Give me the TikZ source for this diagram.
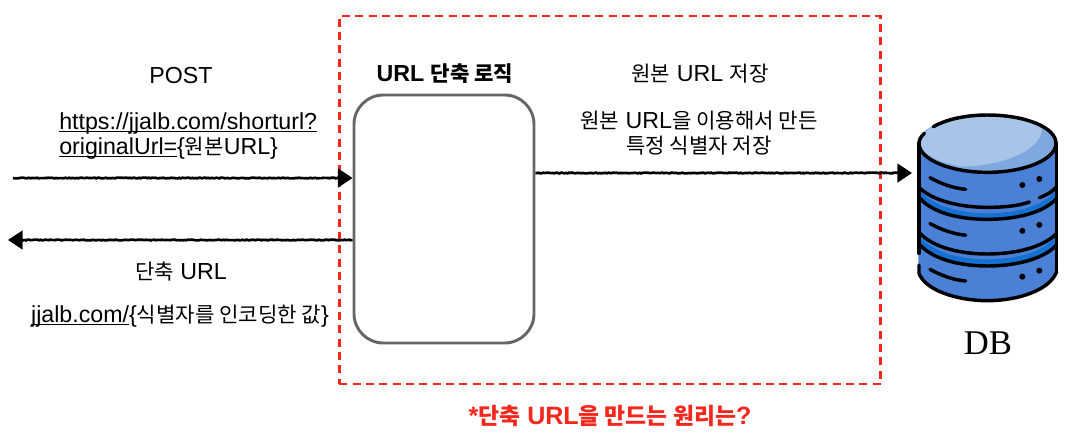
\documentclass[tikz,border=0pt]{standalone}
\usepackage{fontspec}
\setmainfont{Liberation Sans}
\newfontfamily\kr[Scale=0.91]{Noto Sans CJK KR}
\newfontfamily\dbfont{Liberation Serif}
\usetikzlibrary{arrows.meta,positioning,calc,decorations.pathmorphing}
\definecolor{boxred}{HTML}{F5261B}
\definecolor{dbbody}{HTML}{4A80D6}
\definecolor{dbtop}{HTML}{A9C4E9}
\definecolor{dbshade}{HTML}{7FA7E0}
\definecolor{dbgroove}{HTML}{1470D2}
\newsavebox\linkbox
\newcommand\linktext[1]{\sbox\linkbox{#1}\rlap{\usebox\linkbox}\rule[-1.7pt]{\wd\linkbox}{.8pt}}
\tikzset{
  label/.style={font=\fontsize{17.4}{18.5}\selectfont,inner sep=0pt},
  rough/.style={decorate,decoration={random steps,segment length=1.2pt,amplitude=.3pt,post=lineto,post length=10pt}},
  flow/.style={rough,draw=black,line width=2pt,-{Triangle[length=11pt,width=14pt]}},
  logicbox/.style={draw=black!60,line width=2.2pt,rounded corners=22pt,minimum width=135pt,minimum height=186pt,inner sep=0pt},
  dbline/.style={line width=2.6pt,line cap=round,black}
}
\begin{document}
\begin{tikzpicture}[x=.75pt,y=-.75pt]
\pgfmathsetseed{1071}
\useasboundingbox (0,0) rectangle (1071,437);
% scope of the logic
\node[draw=boxred,dashed,line width=2.2pt,dash pattern=on 6pt off 4pt,minimum width=406pt,minimum height=276pt,inner sep=0pt] (scopebox) at (610,200) {};
\node[logicbox] (logic) at (444,219) {};
% free ends
\coordinate (clientin) at (13,178);
\coordinate (clientout) at (8,240);
\coordinate (dbin) at (912,173);
\draw[flow] (clientin) -- (clientin -| logic.west);
\draw[flow] (clientout -| logic.west) -- (clientout);
\draw[flow] (dbin -| logic.east) -- (dbin);
% texts
\node[label] (post) at (181,76) {POST};
\node[label,align=left,anchor=west] (request) at (59,136) {\linktext{https://jjalb.com/shorturl?}\\\linktext{originalUrl=}\{{\kr 원본}URL\}};
\node[label] (shorturl) at (181,272) {{\kr 단축} URL};
\node[label] (shortvalue) at (180,316) {\linktext{jjalb.com/}\{{\kr 식별자를 인코딩한 값}\}};
\node[label,font=\fontsize{17.4}{18.5}\selectfont\bfseries] (logictitle) at (445,74) {URL {\kr 단축 로직}};
\node[label] (savetitle) at (700,74) {{\kr 원본} URL {\kr 저장}};
\node[label,align=center] (savetext) at (699,133) {{\kr 원본} URL{\kr 을 이용해서 만든}\\{\kr 특정 식별자 저장}};
\node[label,font=\fontsize{18.8}{20}\selectfont\bfseries,text=boxred] (question) at (610,416) {*{\kr 단축} URL{\kr 을 만드는 원리는}?};
\node[label,font=\fontsize{26}{30}\selectfont\dbfont] (dbname) at (988,343) {DB};
% database, in units of the zoomed icon
\begin{scope}[shift={(900,110)},x=.25pt,y=-.25pt]
\fill[dbbody] (55,100) -- (55,485) .. controls (80,540) and (180,572) .. (262,572) .. controls (345,572) and (445,540) .. (470,485) -- (470,100) -- cycle;
\fill[dbgroove] (58,240) .. controls (100,290) and (180,310) .. (262,310) .. controls (345,310) and (430,290) .. (468,240) -- (468,265) .. controls (430,310) and (345,328) .. (262,328) .. controls (180,328) and (100,310) .. (58,265) -- cycle;
\fill[dbgroove] (58,378) .. controls (100,428) and (180,448) .. (262,448) .. controls (345,448) and (430,428) .. (468,378) -- (468,403) .. controls (430,448) and (345,466) .. (262,466) .. controls (180,466) and (100,448) .. (58,403) -- cycle;
\fill[dbshade] (262,100) ellipse (208 and 85);
\fill[dbtop] (60,100) .. controls (60,50) and (160,15) .. (262,15) .. controls (330,15) and (395,30) .. (425,55) .. controls (430,110) and (330,165) .. (190,170) .. controls (120,160) and (60,130) .. (60,100) -- cycle;
\draw[dbline] (100,50) .. controls (145,25) and (205,15) .. (262,15) .. controls (375,15) and (468,52) .. (468,100) .. controls (468,148) and (375,187) .. (262,187) .. controls (150,187) and (57,148) .. (57,100) .. controls (57,90) and (62,80) .. (73,70);
\draw[dbline] (57,100) -- (57,430);
\draw[dbline] (470,100) -- (470,485);
\draw[dbline] (57,465) -- (57,490) .. controls (75,540) and (170,572) .. (262,572) .. controls (355,572) and (450,540) .. (470,485);
\draw[dbline] (60,235) .. controls (100,272) and (180,292) .. (262,292) .. controls (310,292) and (355,288) .. (388,276);
\draw[dbline] (418,263) .. controls (440,255) and (458,245) .. (470,230);
\draw[dbline] (60,265) .. controls (100,310) and (180,328) .. (262,328) .. controls (345,328) and (430,310) .. (470,265);
\draw[dbline] (60,370) .. controls (100,412) and (180,432) .. (262,432) .. controls (345,432) and (430,412) .. (470,370);
\draw[dbline] (60,405) .. controls (100,448) and (180,468) .. (262,468) .. controls (345,468) and (430,448) .. (470,405);
\foreach \t in {0,137.5,275}{
  \draw[dbline] (90,203+\t) .. controls (120,220+\t) and (160,235+\t) .. (197,238+\t);
  \fill (367,225+\t) circle (9);
  \fill (418,207+\t) circle (9);
}
\end{scope}
\end{tikzpicture}
\end{document}
